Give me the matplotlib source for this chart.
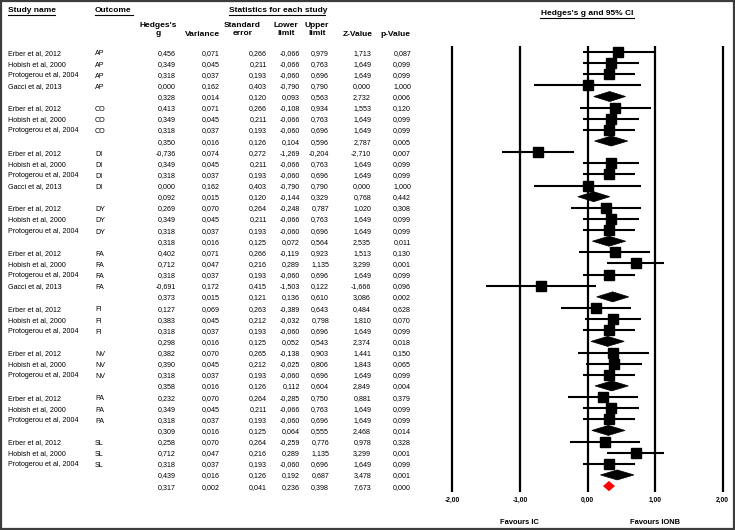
import numpy as np
import matplotlib
matplotlib.use("Agg")
import matplotlib.pyplot as plt
from matplotlib.patches import Polygon, Rectangle

plt.rcParams['font.family'] = ['Liberation Sans', 'DejaVu Sans']

# rows: "s" = single study, "m" = subgroup summary, "o" = overall
kind = ["s", "s", "s", "s", "m",
        "s", "s", "s", "m",
        "s", "s", "s", "s", "m",
        "s", "s", "s", "m",
        "s", "s", "s", "s", "m",
        "s", "s", "s", "m",
        "s", "s", "s", "m",
        "s", "s", "s", "m",
        "s", "s", "s", "m",
        "o"]
study = ["Erber et al, 2012", "Hobish et al, 2000", "Protogerou et al, 2004", "Gacci et al, 2013", "",
         "Erber et al, 2012", "Hobish et al, 2000", "Protogerou et al, 2004", "",
         "Erber et al, 2012", "Hobish et al, 2000", "Protogerou et al, 2004", "Gacci et al, 2013", "",
         "Erber et al, 2012", "Hobish et al, 2000", "Protogerou et al, 2004", "",
         "Erber et al, 2012", "Hobish et al, 2000", "Protogerou et al, 2004", "Gacci et al, 2013", "",
         "Erber et al, 2012", "Hobish et al, 2000", "Protogerou et al, 2004", "",
         "Erber et al, 2012", "Hobish et al, 2000", "Protogerou et al, 2004", "",
         "Erber et al, 2012", "Hobish et al, 2000", "Protogerou et al, 2004", "",
         "Erber et al, 2012", "Hobish et al, 2000", "Protogerou et al, 2004", "",
         ""]
outcome = ["AP", "AP", "AP", "AP", "",
           "CO", "CO", "CO", "",
           "DI", "DI", "DI", "DI", "",
           "DY", "DY", "DY", "",
           "FA", "FA", "FA", "FA", "",
           "FI", "FI", "FI", "",
           "NV", "NV", "NV", "",
           "PA", "PA", "PA", "",
           "SL", "SL", "SL", "",
           ""]
hedges_g = [0.456, 0.349, 0.318, 0.000, 0.328,
            0.413, 0.349, 0.318, 0.350,
            -0.736, 0.349, 0.318, 0.000, 0.092,
            0.269, 0.349, 0.318, 0.318,
            0.402, 0.712, 0.318, -0.691, 0.373,
            0.127, 0.383, 0.318, 0.298,
            0.382, 0.390, 0.318, 0.358,
            0.232, 0.349, 0.318, 0.309,
            0.258, 0.712, 0.318, 0.439,
            0.317]
variance = [0.071, 0.045, 0.037, 0.162, 0.014,
            0.071, 0.045, 0.037, 0.016,
            0.074, 0.045, 0.037, 0.162, 0.015,
            0.070, 0.045, 0.037, 0.016,
            0.071, 0.047, 0.037, 0.172, 0.015,
            0.069, 0.045, 0.037, 0.016,
            0.070, 0.045, 0.037, 0.016,
            0.070, 0.045, 0.037, 0.016,
            0.070, 0.047, 0.037, 0.016,
            0.002]
std_err = [0.266, 0.211, 0.193, 0.403, 0.120,
           0.266, 0.211, 0.193, 0.126,
           0.272, 0.211, 0.193, 0.403, 0.120,
           0.264, 0.211, 0.193, 0.125,
           0.266, 0.216, 0.193, 0.415, 0.121,
           0.263, 0.212, 0.193, 0.125,
           0.265, 0.212, 0.193, 0.126,
           0.264, 0.211, 0.193, 0.125,
           0.264, 0.216, 0.193, 0.126,
           0.041]
lower = [-0.066, -0.066, -0.060, -0.790, 0.093,
         -0.108, -0.066, -0.060, 0.104,
         -1.269, -0.066, -0.060, -0.790, -0.144,
         -0.248, -0.066, -0.060, 0.072,
         -0.119, 0.289, -0.060, -1.503, 0.136,
         -0.389, -0.032, -0.060, 0.052,
         -0.138, -0.025, -0.060, 0.112,
         -0.285, -0.066, -0.060, 0.064,
         -0.259, 0.289, -0.060, 0.192,
         0.236]
upper = [0.979, 0.763, 0.696, 0.790, 0.563,
         0.934, 0.763, 0.696, 0.596,
         -0.204, 0.763, 0.696, 0.790, 0.329,
         0.787, 0.763, 0.696, 0.564,
         0.923, 1.135, 0.696, 0.122, 0.610,
         0.643, 0.798, 0.696, 0.543,
         0.903, 0.806, 0.696, 0.604,
         0.750, 0.763, 0.696, 0.555,
         0.776, 1.135, 0.696, 0.687,
         0.398]
z_value = [1.713, 1.649, 1.649, 0.000, 2.732,
           1.553, 1.649, 1.649, 2.787,
           -2.710, 1.649, 1.649, 0.000, 0.768,
           1.020, 1.649, 1.649, 2.535,
           1.513, 3.299, 1.649, -1.666, 3.086,
           0.484, 1.810, 1.649, 2.374,
           1.441, 1.843, 1.649, 2.849,
           0.881, 1.649, 1.649, 2.468,
           0.978, 3.299, 1.649, 3.478,
           7.673]
p_value = [0.087, 0.099, 0.099, 1.000, 0.006,
           0.120, 0.099, 0.099, 0.005,
           0.007, 0.099, 0.099, 1.000, 0.442,
           0.308, 0.099, 0.099, 0.011,
           0.130, 0.001, 0.099, 0.096, 0.002,
           0.628, 0.070, 0.099, 0.018,
           0.150, 0.065, 0.099, 0.004,
           0.379, 0.099, 0.099, 0.014,
           0.328, 0.001, 0.099, 0.001,
           0.000]

axis_ticks = [-2, -1, 0, 1, 2]
tick_labels = ["-2,00", "-1,00", "0,00", "1,00", "2,00"]

W, H = 735, 530
fig = plt.figure(figsize=(W / 100, H / 100), dpi=100)
ax = fig.add_axes([0, 0, 1, 1])
ax.set_axis_off()

# pixel layout of the CMA sheet
X0, XS = 587.5, 67.6      # pixel of g=0, pixels per unit
Y0, YS = 52.0, 11.13      # pixel of first row, pixels per row
ax.set_xlim(-X0 / XS, (W - X0) / XS)
ax.set_ylim((H - Y0) / YS, -Y0 / YS)


def px(x):
    return (x - X0) / XS


def py(y):
    return (y - Y0) / YS


def fmt(v):
    return f"{v:.3f}".replace(".", ",")


n = len(kind)
rows = np.arange(n)

# forest plot
ax.vlines(axis_ticks, py(46), py(492), color="black", lw=1.6, zorder=1)
for i in rows:
    if kind[i] == "s":
        ax.hlines(i, lower[i], upper[i], color="black", lw=1.5, zorder=2)
        ax.plot(hedges_g[i], i, "s", color="black", ms=6.6, zorder=3)
    else:
        h = 0.45 if kind[i] == "m" else 0.42
        c = "black" if kind[i] == "m" else "#ff0000"
        ax.add_patch(Polygon([(lower[i], i), (hedges_g[i], i - h), (upper[i], i), (hedges_g[i], i + h)],
                             closed=True, fc=c, ec=c, lw=0.5, zorder=3))

for t, lab in zip(axis_ticks, tick_labels):
    ax.text(t, py(500), lab, ha="center", va="center", fontsize=4.8, fontweight="bold")
ax.text(-1, py(522), "Favours IC", ha="center", va="center", fontsize=5.4, fontweight="bold")
ax.text(1, py(522), "Favours IONB", ha="center", va="center", fontsize=5.4, fontweight="bold")

# table (shared baseline for every cell of a row)
fs = 5.1
base = 0.23
cols = [(176, hedges_g), (220, variance), (267, std_err), (300, lower),
        (329, upper), (371, z_value), (411, p_value)]
for i in rows:
    ax.text(px(8), i + base, study[i], ha="left", va="baseline", fontsize=fs)
    # labels without descenders round one pixel higher, nudge them down
    ax.text(px(95), i + base + 0.08, outcome[i], ha="left", va="baseline", fontsize=fs)
    for xr, vals in cols:
        ax.text(px(xr), i + base, fmt(vals[i]), ha="right", va="baseline", fontsize=fs)

hfs = 6.0
ax.text(px(8), py(10), "Study name", ha="left", va="center", fontsize=hfs, fontweight="bold")
ax.text(px(95), py(10), "Outcome", ha="left", va="center", fontsize=hfs, fontweight="bold")
ax.text(px(229), py(10), "Statistics for each study", ha="left", va="center", fontsize=hfs, fontweight="bold")
ax.text(px(587), py(13.5), "Hedges's g and 95% CI", ha="center", va="center", fontsize=hfs, fontweight="bold")
for x0, x1, yy in [(8, 55, 14.5), (95, 133, 14.5), (229, 325, 14.5), (540, 634, 18.3)]:
    ax.plot([px(x0), px(x1)], [py(yy), py(yy)], color="black", lw=0.8)

two_line = [(177, "Hedges's\ng"), (261, "Standard\nerror"), (298, "Lower\nlimit"), (329, "Upper\nlimit")]
for xr, lab in two_line:
    ax.text(px(xr), py(29.5), lab, ha="right", va="center", multialignment="center",
            fontsize=hfs, fontweight="bold", linespacing=1.15)
for xr, lab in [(220, "Variance"), (373, "Z-Value"), (410, "p-Value")]:
    ax.text(px(xr), py(34), lab, ha="right", va="center", fontsize=hfs, fontweight="bold")

# outer frame
fig.patches.append(Rectangle((0.001, 0.002), 0.997, 0.996, transform=fig.transFigure,
                             fill=False, ec="#3c3c3c", lw=1.6))

fig.savefig("out.png", dpi=100)
